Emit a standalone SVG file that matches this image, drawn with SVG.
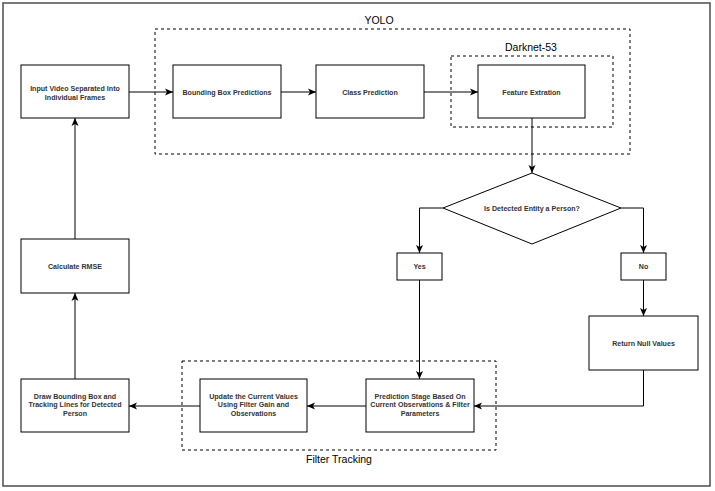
<svg xmlns="http://www.w3.org/2000/svg" width="715" height="491" viewBox="0 0 715 491">
<style>
.box{fill:#fff;stroke:#000;stroke-width:1}
.grp{fill:none;stroke:#000;stroke-width:1;stroke-dasharray:3,3}
.t{font-family:"Liberation Sans",Arial,sans-serif;font-size:7.1px;font-weight:bold;fill:#333;text-anchor:middle}
.lbl{font-family:"Liberation Sans",Arial,sans-serif;font-size:10.5px;fill:#000;text-anchor:middle}
.c{fill:none;stroke:#000;stroke-width:1;marker-end:url(#arr)}
</style>
<defs>
<marker id="arr" markerUnits="userSpaceOnUse" markerWidth="9" markerHeight="8" refX="8" refY="4" orient="auto">
<path d="M0,0.5 L8,4 L0,7.5 L2,4 Z" fill="#000"/>
</marker>
</defs>
<rect x="0" y="0" width="715" height="491" fill="#fff"/>
<rect x="3" y="3" width="707" height="483" fill="none" stroke="#4d4d4d" stroke-width="1.5"/>
<g id="yolo">
<rect class="grp" x="155" y="29" width="475" height="125"/>
<text class="lbl" x="379" y="24">YOLO</text>
</g>
<g id="darknet">
<rect class="grp" x="451" y="56" width="162" height="71"/>
<text class="lbl" x="531" y="51">Darknet-53</text>
</g>
<g id="filter">
<rect class="grp" x="182" y="361" width="314" height="89"/>
<text class="lbl" x="339" y="463">Filter Tracking</text>
</g>
<g id="connectors">
<path class="c" d="M129,92 H173"/>
<path class="c" d="M281,92 H316"/>
<path class="c" d="M424,92 H478"/>
<path class="c" d="M532,118 V173"/>
<path class="c" d="M443,208 H419.5 V253"/>
<path class="c" d="M621,208 H643.5 V253"/>
<path class="c" d="M643.5,280 V316"/>
<path class="c" d="M419.5,280 V379"/>
<path class="c" d="M643.5,370 V406 H474"/>
<path class="c" d="M366,406 H307"/>
<path class="c" d="M200,406 H129"/>
<path class="c" d="M75,379 V293"/>
<path class="c" d="M75,239 V118"/>
</g>
<g id="input">
<rect class="box" x="21" y="65" width="108" height="53"/>
<text class="t" x="75" y="90.5">Input Video Separated Into</text>
<text class="t" x="75" y="99.5">Individual Frames</text>
</g>
<g id="bbox">
<rect class="box" x="173" y="65" width="108" height="53"/>
<text class="t" x="227" y="94.5">Bounding Box Predictions</text>
</g>
<g id="classpred">
<rect class="box" x="316" y="65" width="108" height="53"/>
<text class="t" x="370" y="94.5">Class Prediction</text>
</g>
<g id="feature">
<rect class="box" x="478" y="65" width="107" height="53"/>
<text class="t" x="531.5" y="94.5">Feature Extration</text>
</g>
<g id="decision">
<path class="box" d="M532,173 L621,208 L532,244 L443,208 Z"/>
<text class="t" x="532" y="210.5">Is Detected Entity a Person?</text>
</g>
<g id="yes">
<rect class="box" x="397" y="253" width="45" height="27"/>
<text class="t" x="419.5" y="269">Yes</text>
</g>
<g id="no">
<rect class="box" x="621" y="253" width="45" height="27"/>
<text class="t" x="643.5" y="269">No</text>
</g>
<g id="null">
<rect class="box" x="589" y="316" width="109" height="54"/>
<text class="t" x="643.5" y="345.5">Return Null Values</text>
</g>
<g id="prediction">
<rect class="box" x="366" y="379" width="108" height="53"/>
<text class="t" x="420" y="398.5">Prediction Stage Based On</text>
<text class="t" x="420" y="407">Current Observations &amp; Filter</text>
<text class="t" x="420" y="415.5">Parameters</text>
</g>
<g id="update">
<rect class="box" x="200" y="379" width="107" height="53"/>
<text class="t" x="253.5" y="398.5">Update the Current Values</text>
<text class="t" x="253.5" y="407">Using Filter Gain and</text>
<text class="t" x="253.5" y="415.5">Observations</text>
</g>
<g id="draw">
<rect class="box" x="21" y="379" width="108" height="53"/>
<text class="t" x="75" y="398.5">Draw Bounding Box and</text>
<text class="t" x="75" y="407">Tracking Lines for Detected</text>
<text class="t" x="75" y="415.5">Person</text>
</g>
<g id="rmse">
<rect class="box" x="21" y="239" width="108" height="54"/>
<text class="t" x="75" y="268.5">Calculate RMSE</text>
</g>
</svg>
